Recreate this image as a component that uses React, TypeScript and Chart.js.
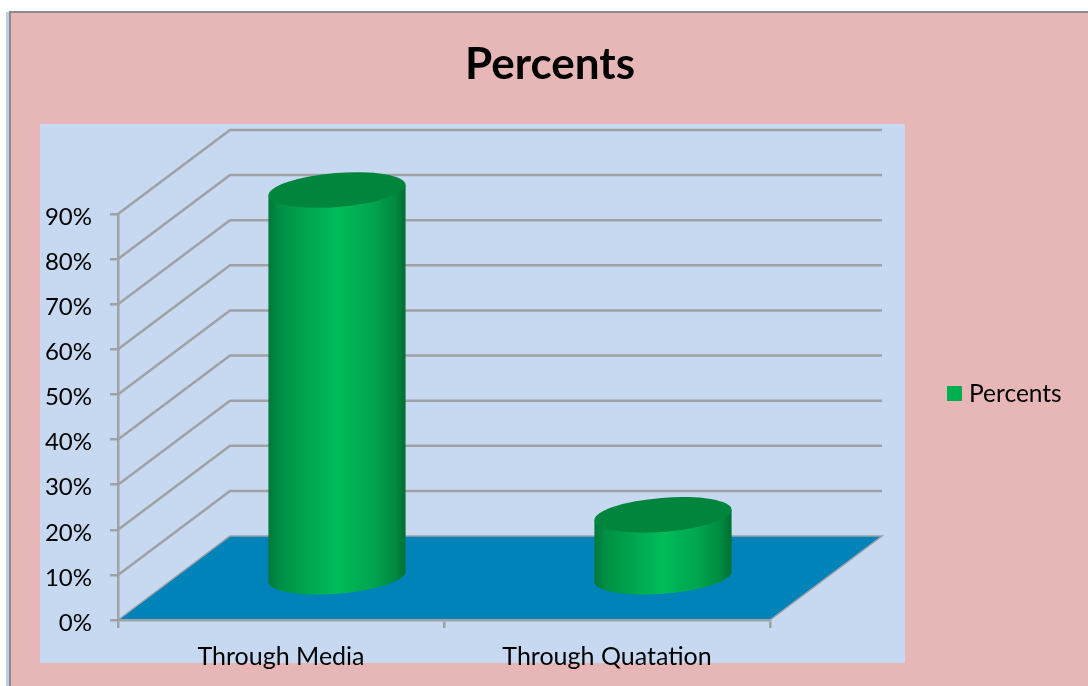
import { useEffect, useRef } from "react";
import { Chart, registerables } from "chart.js";

Chart.register(...registerables);

const categories = ["Through Media", "Through Quatation"];
const percents = [86, 14];
const seriesName = "Percents";
const valueTicks = { min: 0, max: 90, step: 10 };

const PINK = "#E7B7B7";
const PANEL = "#C6D9F0";
const FLOOR = "#0083B8";
const GRID = "#9FA1A5";
const GREEN = "#00B050";
const CAP = "#00863C";
const FONT = "Lato";

// Oblique projection of the chart's depth axis, in pixels.
const DEPTH_X = 112;
const DEPTH_Y = 84;
const CAP_TILT = -0.08;
const CAP_MINOR = 17;

// Paints the page frame, the panel, the floor and the receding wall grid.
const scenery = {
  id: "scenery",
  beforeDraw(chart: any) {
    const { ctx, width, height, chartArea: area, scales } = chart;
    ctx.save();
    ctx.fillStyle = "#fff";
    ctx.fillRect(0, 0, width, height);
    ctx.fillStyle = "#B8CEE8";
    ctx.fillRect(6, 12, 4, height - 12);
    ctx.fillStyle = PINK;
    ctx.fillRect(10, 12, width - 10, height - 12);
    ctx.fillStyle = "#8C8C8C";
    ctx.fillRect(9, 11, 2, height - 11);
    ctx.fillRect(9, 11, width - 9, 2);
    ctx.fillStyle = PANEL;
    ctx.fillRect(40, 124, 865, 539);

    const base = scales.y.getPixelForValue(0);
    ctx.fillStyle = FLOOR;
    ctx.strokeStyle = GRID;
    ctx.lineWidth = 1.5;
    ctx.beginPath();
    ctx.moveTo(area.left, base);
    ctx.lineTo(area.left + DEPTH_X, base - DEPTH_Y);
    ctx.lineTo(area.right + DEPTH_X, base - DEPTH_Y);
    ctx.lineTo(area.right, base);
    ctx.closePath();
    ctx.fill();
    ctx.stroke();

    scales.y.ticks.forEach((t: any) => {
      if (t.value === 0) return;
      const y = scales.y.getPixelForValue(t.value);
      ctx.beginPath();
      ctx.moveTo(area.left, y);
      ctx.lineTo(area.left + DEPTH_X, y - DEPTH_Y);
      ctx.lineTo(area.right + DEPTH_X, y - DEPTH_Y);
      ctx.lineWidth = 2.5;
      ctx.stroke();
    });
    ctx.restore();
  },
};

// Replaces the flat bars with shaded cylinders standing mid-way along the depth axis.
const cylinders = {
  id: "cylinders",
  beforeDatasetDraw(chart: any, args: any) {
    const { ctx } = chart;
    const meta = chart.getDatasetMeta(args.index);
    meta.data.forEach((bar: any) => {
      const cx = bar.x + DEPTH_X / 2;
      const top = bar.y - DEPTH_Y / 2;
      const bottom = bar.base - DEPTH_Y / 2;
      const rx = bar.width / 2;
      const major = rx * 1.004;
      const t0 = Math.atan2(-CAP_MINOR * Math.sin(CAP_TILT), major * Math.cos(CAP_TILT));
      const dx =
        major * Math.cos(t0) * Math.cos(CAP_TILT) - CAP_MINOR * Math.sin(t0) * Math.sin(CAP_TILT);
      const dy =
        major * Math.cos(t0) * Math.sin(CAP_TILT) + CAP_MINOR * Math.sin(t0) * Math.cos(CAP_TILT);

      const shade = ctx.createLinearGradient(cx - rx, 0, cx + rx, 0);
      shade.addColorStop(0, "#00773A");
      shade.addColorStop(0.08, "#008F45");
      shade.addColorStop(0.3, "#00A84F");
      shade.addColorStop(0.5, "#00BC59");
      shade.addColorStop(0.75, "#00A64E");
      shade.addColorStop(0.92, "#008B41");
      shade.addColorStop(1, "#006F33");

      ctx.save();
      ctx.fillStyle = shade;
      ctx.beginPath();
      ctx.moveTo(cx + dx, top + dy);
      ctx.ellipse(cx, bottom, major, CAP_MINOR, CAP_TILT, t0, t0 + Math.PI);
      ctx.lineTo(cx - dx, top - dy);
      ctx.closePath();
      ctx.fill();
      ctx.fillStyle = CAP;
      ctx.beginPath();
      ctx.ellipse(cx, top, major, CAP_MINOR, CAP_TILT, 0, Math.PI * 2);
      ctx.fill();
      ctx.restore();
    });
    return false;
  },
};

// Series key placed in the free column to the right of the panel.
const seriesKey = {
  id: "seriesKey",
  afterDraw(chart: any) {
    const { ctx } = chart;
    const ds = chart.data.datasets[0];
    ctx.save();
    ctx.fillStyle = ds.backgroundColor;
    ctx.fillRect(947, 386, 15, 15);
    ctx.fillStyle = "#000";
    ctx.font = `24.5px ${FONT}`;
    ctx.textBaseline = "middle";
    ctx.textAlign = "left";
    ctx.fillText(ds.label, 969, 394);
    ctx.restore();
  },
};

export default function App() {
  const ref = useRef<HTMLCanvasElement>(null);

  useEffect(() => {
    document.body.style.margin = "0";
    const chart = new Chart(ref.current as HTMLCanvasElement, {
      type: "bar",
      data: {
        labels: categories,
        datasets: [
          {
            label: seriesName,
            data: percents,
            backgroundColor: GREEN,
            barThickness: 137,
            yAxisID: "y",
          },
        ],
      },
      plugins: [scenery, cylinders, seriesKey],
      options: {
        responsive: false,
        animation: false,
        layout: { padding: { left: 12, right: 0, top: 0, bottom: 0 }, autoPadding: false },
        plugins: {
          legend: { display: false },
          tooltip: { enabled: false },
          title: {
            display: true,
            text: seriesName,
            color: "#000",
            font: { family: FONT, size: 44, weight: "bold", lineHeight: 1.2 },
            padding: { top: 38, bottom: 123.2 },
          },
        },
        scales: {
          x: {
            grid: { drawOnChartArea: false, color: GRID, lineWidth: 2.5, tickLength: 8 },
            border: { color: GRID, width: 2.5 },
            ticks: {
              color: "#000",
              padding: 14,
              maxRotation: 0,
              autoSkip: false,
              font: { family: FONT, size: 25 },
            },
            afterFit: (s: any) => {
              s.height = 66;
            },
          },
          y: {
            min: valueTicks.min,
            max: valueTicks.max,
            grid: { drawOnChartArea: false, color: GRID, lineWidth: 2.5, tickLength: 8 },
            border: { color: GRID, width: 2.5 },
            ticks: {
              stepSize: valueTicks.step,
              color: "#000",
              padding: 18,
              labelOffset: 3,
              font: { family: FONT, size: 24 },
              callback: (v: any) => `${v}%`,
            },
            afterFit: (s: any) => {
              s.width = 106;
            },
          },
          // Empty axis that reserves the column holding the series key.
          gutter: {
            type: "linear",
            axis: "y",
            position: "right",
            display: true,
            grid: { display: false },
            border: { display: false },
            ticks: { display: false },
            afterFit: (s: any) => {
              s.width = 318;
            },
          },
        },
      },
    } as any);
    return () => chart.destroy();
  }, []);

  return <canvas ref={ref} width={1088} height={686} style={{ display: "block" }} />;
}
